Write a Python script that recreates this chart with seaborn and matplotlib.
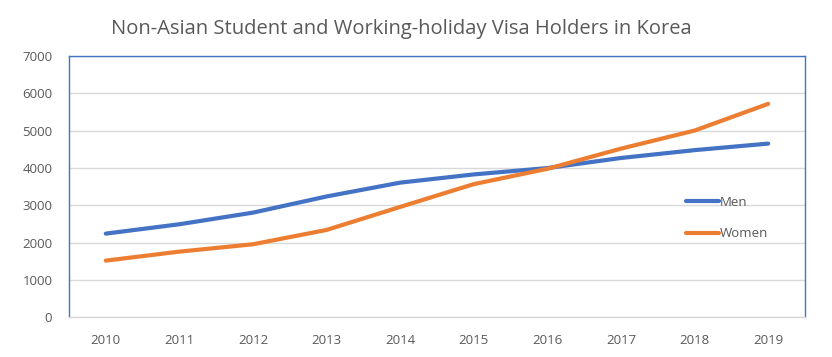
import matplotlib
matplotlib.use("Agg")
import matplotlib.pyplot as plt
import seaborn as sns
import pandas as pd

years = [2010, 2011, 2012, 2013, 2014, 2015, 2016, 2017, 2018, 2019]
men = [2245, 2496, 2807, 3240, 3610, 3830, 4000, 4270, 4480, 4655]
women = [1522, 1763, 1960, 2344, 2960, 3570, 3980, 4520, 5004, 5719]
series_names = ["Men", "Women"]
title = "Non-Asian Student and Working-holiday Visa Holders in Korea"

df = pd.DataFrame({
    "Year": years * 2,
    "Value": men + women,
    "Series": [series_names[0]] * len(years) + [series_names[1]] * len(years),
})

sns.set_theme(style="white")
plt.rcParams["font.family"] = ["Open Sans", "DejaVu Sans"]

fig = plt.figure(figsize=(8.32, 3.57), dpi=100)
ax = fig.add_axes([0.0829, 0.1107, 0.8846, 0.7324])

palette = {"Men": "#4472C4", "Women": "#ED7D31"}
sns.lineplot(data=df, x="Year", y="Value", hue="Series", palette=palette,
             linewidth=3.0, ax=ax, solid_capstyle="round", solid_joinstyle="round")

ax.set_xlim(2009.5, 2019.5)
ax.set_ylim(0, 7000)
ax.set_xticks(years)
ax.set_xticklabels([str(y) for y in years])
ax.set_yticks(range(0, 7001, 1000))
ax.yaxis.grid(True, color="#D9D9D9", linewidth=1)
ax.xaxis.grid(False)
ax.set_xlabel("")
ax.set_ylabel("")
ax.tick_params(axis="both", length=0, labelsize=9.5, labelcolor="#595959")
ax.tick_params(axis="x", pad=12)
ax.tick_params(axis="y", pad=12)

for s in ["left", "top", "right"]:
    ax.spines[s].set_color("#4472C4")
    ax.spines[s].set_linewidth(1.0)
ax.spines["bottom"].set_color("#D9D9D9")
ax.spines["bottom"].set_linewidth(1.0)

leg = ax.legend(loc="center left", bbox_to_anchor=(0.822, 0.38), frameon=False,
                fontsize=9.5, handlelength=2.5, handletextpad=0.1, labelspacing=1.4)
for t in leg.get_texts():
    t.set_color("#595959")

fig.text(0.482, 0.918, title, ha="center", va="center", fontsize=14.5, color="#595959")

fig.savefig("out.png", dpi=100)
